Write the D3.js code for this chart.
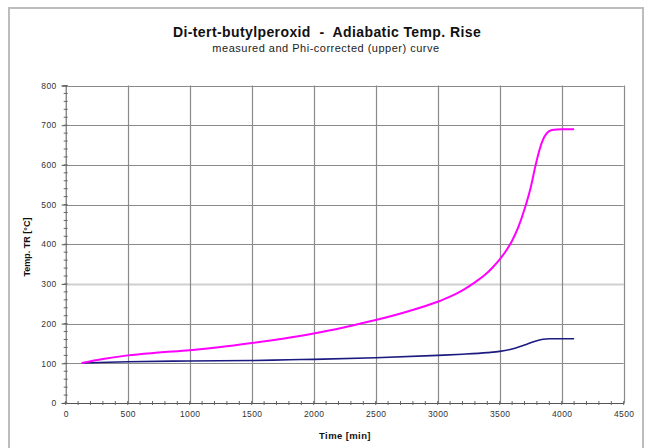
<!DOCTYPE html>
<html>
<head>
<meta charset="utf-8">
<script src="https://cdn.jsdelivr.net/npm/d3@7"></script>
<style>
  html, body { margin: 0; padding: 0; background: #fff; }
  svg { display: block; font-family: "Liberation Sans", Arial, sans-serif; }
</style>
</head>
<body>
<svg id="chart" width="645" height="448"></svg>
<script>
// Time axis ticks (min) and temperature axis ticks (°C)
const xTicks = [0, 500, 1000, 1500, 2000, 2500, 3000, 3500, 4000, 4500];
const yTicks = [0, 100, 200, 300, 400, 500, 600, 700, 800];

// Phi-corrected curve: time [min], temperature [°C]
const correctedTime = [130, 300, 500, 750, 1000, 1250, 1500, 1750, 2000, 2250, 2500, 2750, 3000, 3100, 3200, 3300, 3400, 3450, 3500, 3550, 3600, 3650, 3700, 3750, 3790, 3820, 3850, 3880, 3920, 4000, 4100];
const correctedTemp = [101, 111, 120, 127, 133, 141, 151, 162, 175, 191, 209, 230, 255, 268, 284, 304, 328, 344, 362, 383, 409, 443, 488, 543, 600, 637, 664, 680, 688, 690, 690];

// Measured curve: time [min], temperature [°C]
const measuredTime = [130, 500, 1000, 1500, 1800, 2000, 2500, 3000, 3200, 3400, 3500, 3600, 3700, 3780, 3850, 3900, 3950, 4100];
const measuredTemp = [101, 104, 106, 107, 109, 110, 114, 120, 123, 127, 130, 136, 146, 155, 160.5, 162, 162, 162];

const svg = d3.select("#chart");
const plot = { left: 65.7, right: 623.7, top: 85.5, bottom: 403 };

// Outer chart frame
svg.append("rect")
  .attr("x", 9).attr("y", 8).attr("width", 634).attr("height", 450)
  .attr("fill", "none").attr("stroke", "#bdbdbd").attr("stroke-width", 2);

const x = d3.scaleLinear().domain([0, 4500]).range([plot.left, plot.right]);
const y = d3.scaleLinear().domain([0, 800]).range([plot.bottom, plot.top]);

// Gridlines
const grid = svg.append("g").attr("class", "grid");
grid.selectAll("line.h").data(yTicks.filter(d => d > 0)).join("line")
  .attr("class", "h")
  .attr("x1", plot.left).attr("x2", plot.right)
  .attr("y1", d => Math.round(y(d)) + 0.5).attr("y2", d => Math.round(y(d)) + 0.5)
  .attr("stroke", d => d === 300 ? "#cfcfcf" : "#8a8a8a")
  .attr("stroke-width", d => d === 300 ? 2 : 1.2);
grid.selectAll("line.v").data(xTicks.filter(d => d > 0)).join("line")
  .attr("class", "v")
  .attr("y1", plot.top).attr("y2", plot.bottom)
  .attr("x1", d => Math.round(x(d)) + 0.5).attr("x2", d => Math.round(x(d)) + 0.5)
  .attr("stroke", "#8a8a8a").attr("stroke-width", 1.2);

// Axes
const fmt = d3.format("d");
const xAxis = d3.axisBottom(x).tickValues(xTicks).tickFormat(fmt).tickSize(0).tickPadding(8);
const yAxis = d3.axisLeft(y).tickValues(yTicks).tickFormat(fmt).tickSize(4).tickPadding(5);

const gx = svg.append("g").attr("transform", `translate(0,${plot.bottom})`).call(xAxis);
const gy = svg.append("g").attr("transform", `translate(${plot.left},0)`).call(yAxis);
[gx, gy].forEach(g => {
  g.select(".domain").attr("stroke", "#555").attr("stroke-width", 1);
  g.selectAll(".tick line").attr("stroke", "#555");
  g.selectAll("text").attr("fill", "#333").style("font-size", "8.5px").style("letter-spacing", "0.4px");
});

// Minor ticks
const xMinor = d3.range(0, 4501, 100);
svg.append("g").selectAll("line").data(xMinor).join("line")
  .attr("x1", d => x(d)).attr("x2", d => x(d))
  .attr("y1", plot.bottom - 2).attr("y2", plot.bottom + 2)
  .attr("stroke", "#666").attr("stroke-width", 1);
const yMinor = d3.range(0, 801, 20);
svg.append("g").selectAll("line").data(yMinor).join("line")
  .attr("x1", plot.left - 2).attr("x2", plot.left + 2)
  .attr("y1", d => y(d)).attr("y2", d => y(d))
  .attr("stroke", "#666").attr("stroke-width", 1);

// Data curves
const line = d3.line().x(d => x(d[0])).y(d => y(d[1])).curve(d3.curveMonotoneX);
const measured = measuredTime.map((t, i) => [t, measuredTemp[i]]);
const corrected = correctedTime.map((t, i) => [t, correctedTemp[i]]);

svg.append("path").datum(measured)
  .attr("d", line).attr("fill", "none")
  .attr("stroke", "#1a1a80").attr("stroke-width", 1.6);
svg.append("path").datum(corrected)
  .attr("d", line).attr("fill", "none")
  .attr("stroke", "#ff00ff").attr("stroke-width", 2);

// Titles
svg.append("text").attr("x", 327).attr("y", 37).attr("text-anchor", "middle")
  .style("font-size", "14px").style("font-weight", "bold").style("letter-spacing", "0.4px")
  .attr("fill", "#111").attr("xml:space", "preserve")
  .text("Di-tert-butylperoxid  -  Adiabatic Temp. Rise");
svg.append("text").attr("x", 326).attr("y", 52).attr("text-anchor", "middle")
  .style("font-size", "11px").style("letter-spacing", "0.5px").attr("fill", "#222")
  .text("measured and Phi-corrected (upper) curve");

svg.append("text").attr("x", 345).attr("y", 439).attr("text-anchor", "middle")
  .style("font-size", "9.5px").style("font-weight", "bold").style("letter-spacing", "0.4px")
  .attr("fill", "#111")
  .text("Time [min]");
svg.append("text")
  .attr("transform", "translate(30,247) rotate(-90)")
  .attr("text-anchor", "middle")
  .style("font-size", "9px").style("font-weight", "bold").attr("fill", "#111")
  .text("Temp. TR [°C]");
</script>
</body>
</html>
